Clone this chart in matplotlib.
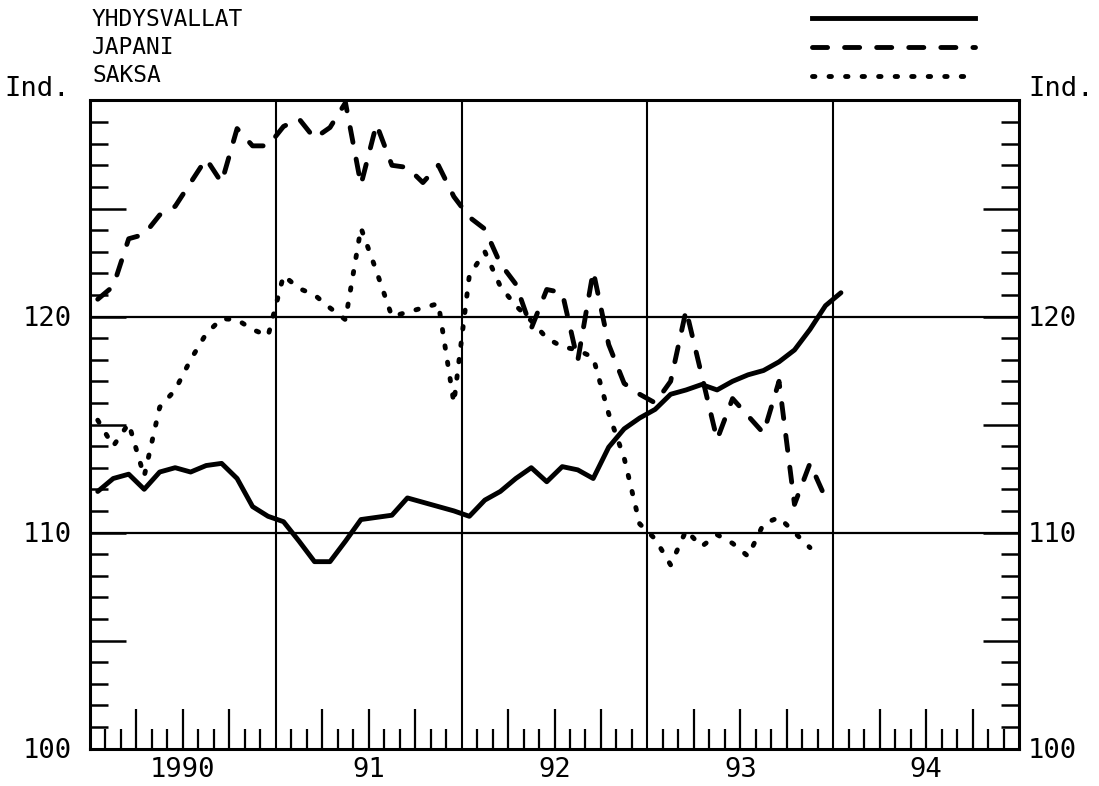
import matplotlib
matplotlib.use('Agg')
import matplotlib.pyplot as plt
import numpy as np
from matplotlib.lines import Line2D

# kuukausisarjat alkaen tammikuusta 1990 (indeksi)
yhdysvallat = [111.9, 112.5, 112.7, 112.0, 112.8, 113.0, 112.8, 113.1, 113.2, 112.5, 111.2, 110.75,
               110.5, 109.6, 108.65, 108.65, 109.6, 110.6, 110.7, 110.8, 111.6, 111.4, 111.2, 111.0,
               110.75, 111.5, 111.9, 112.5, 113.0, 112.35, 113.05, 112.9, 112.5, 113.95, 114.8, 115.3,
               115.7, 116.4, 116.6, 116.85, 116.6, 117.0, 117.3, 117.5, 117.9, 118.45, 119.4, 120.5,
               121.1]
japani = [120.8, 121.4, 123.6, 123.8, 124.7, 125.1, 126.2, 127.3, 126.2, 128.7, 127.9, 127.9,
          128.8, 129.15, 128.25, 128.75, 129.9, 126.1, 128.9, 127.0, 126.9, 126.2, 127.0, 125.55,
          124.6, 124.05, 122.45, 121.5, 119.45, 121.25, 121.1, 117.95, 122.1, 118.7, 116.9, 116.4,
          116.0, 117.0, 120.3, 117.3, 114.3, 116.2, 115.4, 114.6, 117.0, 111.3, 113.2, 111.6]
saksa = [115.2, 114.0, 115.05, 112.6, 115.8, 116.6, 118.0, 119.2, 119.9, 119.85, 119.4, 119.1,
         121.9, 121.3, 121.0, 120.4, 119.85, 124.1, 122.1, 120.0, 120.2, 120.4, 120.6, 116.0,
         121.9, 123.0, 121.4, 120.5, 119.8, 119.0, 118.6, 118.45, 118.1, 115.5, 113.45, 110.4,
         109.7, 108.5, 110.1, 109.35, 109.9, 109.5, 108.9, 110.4, 110.7, 110.0, 109.3]

vuodet = [1990, 1991, 1992, 1993, 1994]
vuosi_labels = ['1990', '91', '92', '93', '94']
y_labels = {100: '100', 110: '110', 120: '120'}
nimet = ['YHDYSVALLAT', 'JAPANI', 'SAKSA']

def kk(sarja):
    return 1990 + (np.arange(len(sarja)) + 0.5) / 12.0

mono = 'DejaVu Sans Mono'
plt.rcParams['font.family'] = mono

W, H = 1099, 786
fig = plt.figure(figsize=(W / 100, H / 100), dpi=100)
left, right, top, bottom = 90, 1019, 100.5, 748.5
ax = fig.add_axes([left / W, 1 - bottom / H, (right - left) / W, (bottom - top) / H])
ax.set_xlim(1990, 1995)
ax.set_ylim(100, 130)

for s in ax.spines.values():
    s.set_linewidth(2.2)

# ruudukko
for v in [110, 120]:
    ax.axhline(v, color='black', lw=1.6, zorder=1)
for v in vuodet[1:]:
    ax.axvline(v, color='black', lw=1.5, zorder=1)

lw = 3.5
viiva = (3.1, 3.5)
piste = (0.5, 2.9)
ax.plot(kk(yhdysvallat), yhdysvallat, color='black', lw=lw, solid_capstyle='round',
        solid_joinstyle='round', zorder=3)
ax.plot(kk(japani), japani, color='black', lw=lw, dashes=viiva, dash_capstyle='round',
        zorder=3)
ax.plot(kk(saksa), saksa, color='black', lw=lw, dashes=piste, dash_capstyle='round',
        zorder=3)

# x-akselin kuukausi- ja neljännesvuosijaot
neljannes = [y + q / 4 for y in vuodet for q in (1, 2, 3)]
kuukaudet = [y + m / 12 for y in vuodet for m in range(1, 12) if m % 3 != 0]
ax.set_xticks(neljannes)
ax.set_xticks(kuukaudet, minor=True)
ax.tick_params(axis='x', which='major', direction='in', length=28.5, width=1.6,
               top=False, labelbottom=False)
ax.tick_params(axis='x', which='minor', direction='in', length=14.5, width=1.6, top=False)

# y-akseli molemmin puolin
ax2 = ax.twinx()
ax2.set_ylim(100, 130)
major_y = [100, 105, 110, 115, 120, 125]
minor_y = [v for v in range(101, 130) if v % 5 != 0]
for a, side in ((ax, 'left'), (ax2, 'right')):
    a.set_yticks(major_y, [y_labels.get(v, '') for v in major_y])
    a.set_yticks(minor_y, minor=True)
    a.tick_params(axis='y', which='major', direction='in', length=26, width=1.8,
                  labelsize=19.5, pad=13 if side == 'left' else 6.5)
    a.tick_params(axis='y', which='minor', direction='in', length=13, width=1.8)
ax.tick_params(axis='y', which='both', right=False)
ax2.tick_params(axis='y', which='both', left=False, labelleft=False)
for s in ax2.spines.values():
    s.set_visible(False)

for y, lab in zip(vuodet, vuosi_labels):
    ax.text(y + 0.5, -21.5 / (bottom - top), lab, transform=ax.get_xaxis_transform(),
            ha='center', va='center', fontsize=19.5)

fig.text(70 / W, 1 - 89 / H, 'Ind.', ha='right', va='center', fontsize=19.5)
fig.text(1028 / W, 1 - 89 / H, 'Ind.', ha='left', va='center', fontsize=19.5)

# selite
tyylit = [dict(), dict(dashes=viiva, dash_capstyle='round'),
          dict(dashes=piste, dash_capstyle='round')]
for i, (nimi, st) in enumerate(zip(nimet, tyylit)):
    yy = 1 - (20 + i * 28) / H
    fig.text(92 / W, yy, nimi, ha='left', va='center', fontsize=16.5)
    fig.add_artist(Line2D([812 / W, 975 / W], [1 - (18 + i * 29) / H] * 2, color='black',
                          lw=lw, transform=fig.transFigure, **st))

fig.savefig('out.png', dpi=100)
